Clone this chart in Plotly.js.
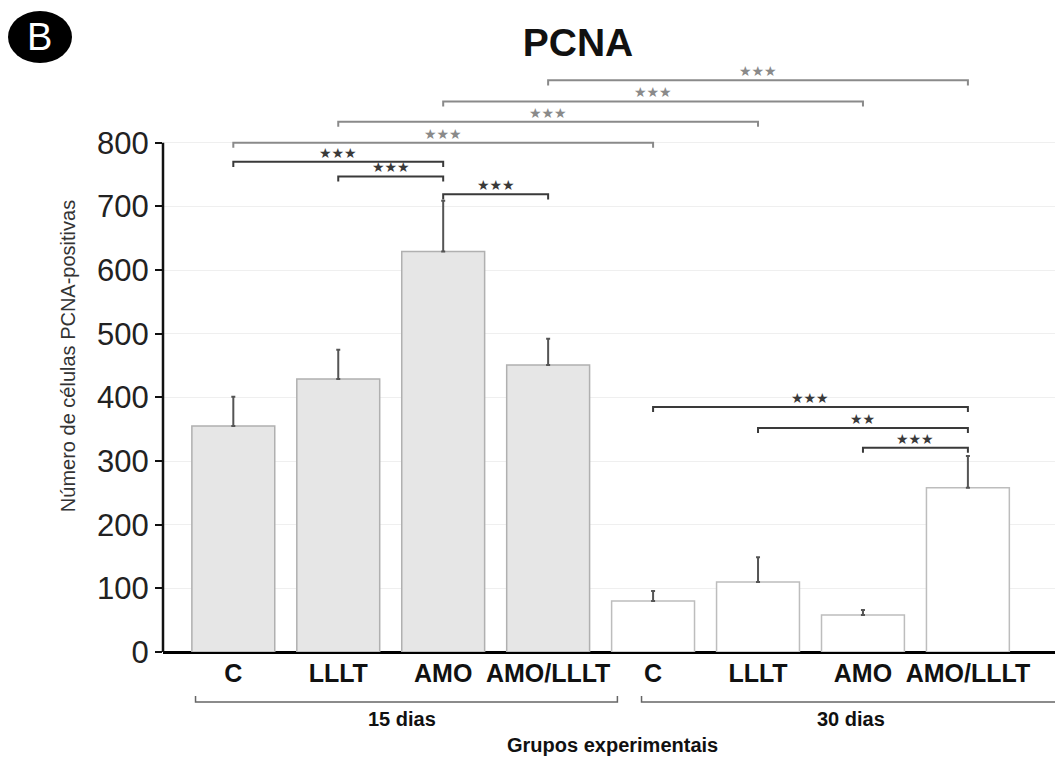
<!DOCTYPE html>
<html>
<head>
<meta charset="utf-8">
<script src="https://cdn.plot.ly/plotly-3.0.1.min.js"></script>
<style>html,body{margin:0;padding:0;background:#fff;}</style>
</head>
<body>
<div id="chart" style="width:1055px;height:765px;"></div>
<script>
// ---- data ----
const groupLabels = ["C", "LLLT", "AMO", "AMO/LLLT", "C", "LLLT", "AMO", "AMO/LLLT"];
const periodLabels = ["15 dias", "30 dias"];
const means15 = [355, 429, 629, 451];
const sem15 = [46, 46, 80, 41];
const means30 = [80, 110, 58, 258];
const sem30 = [16, 39, 8, 50];
// comparisons: [left index, right index, label]
const compLeft  = [3, 2, 1, 0, 0, 1, 2, 4, 5, 6];
const compRight = [7, 6, 5, 4, 2, 2, 3, 7, 7, 7];
const compText  = ["★★★", "★★★", "★★★", "★★★", "★★★", "★★★", "★★★", "★★★", "★★", "★★★"];
const compLevel = [898, 865, 833, 800, 770, 747, 719, 385, 352, 321];
const compGray  = [true, true, true, true, false, false, false, false, false, false];

const x15 = [0, 1, 2, 3];
const x30 = [4, 5, 6, 7];

const traces = [
  {
    type: "bar", x: x15, y: means15, width: 0.79,
    marker: {color: "#e6e6e6", line: {color: "#b0b0b0", width: 1.5}},
    error_y: {type: "data", array: sem15, arrayminus: sem15.map(() => 0), symmetric: false,
              color: "#555", thickness: 2, width: 2},
    hoverinfo: "y", showlegend: false
  },
  {
    type: "bar", x: x30, y: means30, width: 0.79,
    marker: {color: "#ffffff", line: {color: "#bdbdbd", width: 1.5}},
    error_y: {type: "data", array: sem30, arrayminus: sem30.map(() => 0), symmetric: false,
              color: "#555", thickness: 2, width: 2},
    hoverinfo: "y", showlegend: false
  }
];

const shapes = [];
const annotations = [];
const PH = 592; // plot height px
const PB = 652; // plot bottom px
const py = p => (PB - p) / PH;

// y-axis spine from 0 to 800
shapes.push({type: "line", xref: "paper", yref: "y", x0: 0, x1: 0, y0: 0, y1: 800,
             line: {color: "#111", width: 2.5}});

// significance brackets
for (let i = 0; i < compLeft.length; i++) {
  const y = compLevel[i], xl = compLeft[i], xr = compRight[i];
  const col = compGray[i] ? "#8a8a8a" : "#3a3a3a";
  shapes.push({type: "path", xref: "x", yref: "y",
    path: `M ${xl},${y - 8} L ${xl},${y} L ${xr},${y} L ${xr},${y - 8}`,
    line: {color: col, width: 2}});
  annotations.push({xref: "x", yref: "y", x: (xl + xr) / 2, y: y, yanchor: "bottom", yshift: -1,
    text: compText[i], showarrow: false, font: {family: "DejaVu Sans", size: 14, color: col}});
}

// period brackets below axis
const periodStart = [-0.36, 3.89];
const periodEnd = [3.66, 7.95];
const periodMid = [1.61, 5.89];
for (let i = 0; i < periodLabels.length; i++) {
  shapes.push({type: "path", xref: "x", yref: "paper",
    path: `M ${periodStart[i]},${py(696)} L ${periodStart[i]},${py(702)} L ${periodEnd[i]},${py(702)} L ${periodEnd[i]},${py(696)}`,
    line: {color: "#666", width: 1.5}});
  annotations.push({xref: "x", yref: "paper", x: periodMid[i], y: py(719), yanchor: "middle", xanchor: "center",
    text: "<b>" + periodLabels[i] + "</b>",
    showarrow: false, font: {family: "Liberation Sans, Arial", size: 20, color: "#111"}});
}
annotations.push({xref: "x", yref: "paper", x: 3.61, y: py(745), yanchor: "middle", xanchor: "center",
  text: "<b>Grupos experimentais</b>",
  showarrow: false, font: {family: "Liberation Sans, Arial", size: 20, color: "#111"}});

// "B" badge
shapes.push({type: "circle", xref: "paper", yref: "paper",
  x0: (8 - 163) / 892, x1: (72 - 163) / 892, y0: py(63), y1: py(11),
  fillcolor: "#000", line: {color: "#000", width: 0}});
annotations.push({xref: "paper", yref: "paper", x: (40 - 163) / 892, y: py(37), xanchor: "center", yanchor: "middle",
  text: "B", showarrow: false, font: {family: "Liberation Sans, Arial", size: 38, color: "#fff"}});

const layout = {
  width: 1055, height: 765,
  margin: {l: 163, r: 0, t: 60, b: 113},
  paper_bgcolor: "#fff", plot_bgcolor: "#fff",
  font: {family: "Liberation Sans, Arial, sans-serif", color: "#111"},
  title: {text: "<b>PCNA</b>", x: 578 / 1055, xanchor: "center", xref: "container",
          y: 1 - 42 / 765, yanchor: "middle", font: {size: 39, color: "#111"}},
  bargap: 0.2,
  xaxis: {
    range: [-0.67, 7.83], tickvals: [0, 1, 2, 3, 4, 5, 6, 7], ticktext: groupLabels.map(s => "<b>" + s + "</b>"),
    ticks: "", showgrid: false, zeroline: false, showline: false,
    tickfont: {size: 25, color: "#111"}, ticklabelstandoff: 4, fixedrange: true
  },
  yaxis: {
    range: [0, 930], tickvals: [0, 100, 200, 300, 400, 500, 600, 700, 800],
    ticks: "outside", ticklen: 7, tickwidth: 2, tickcolor: "#111",
    showgrid: true, gridcolor: "#efefef", gridwidth: 1,
    zeroline: true, zerolinecolor: "#000", zerolinewidth: 3,
    showline: false, tickfont: {size: 31, color: "#222"},
    title: {text: "Número de células PCNA-positivas", font: {size: 20, color: "#333"}, standoff: 16},
    fixedrange: true
  },
  shapes: shapes,
  annotations: annotations
};

Plotly.newPlot("chart", traces, layout, {displayModeBar: false, staticPlot: true});
</script>
</body>
</html>
